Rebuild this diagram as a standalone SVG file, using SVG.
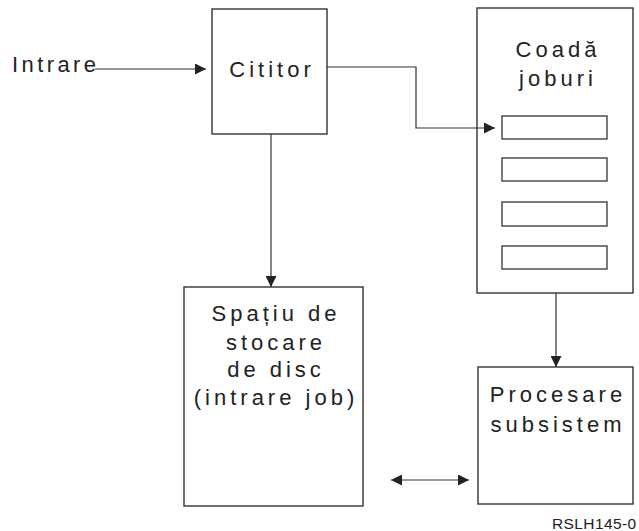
<svg xmlns="http://www.w3.org/2000/svg" width="639" height="531" viewBox="0 0 639 531">
<style>
.box{fill:#fff;stroke:#333;stroke-width:1.4}
.slot{fill:#fff;stroke:#333;stroke-width:1.3}
.lbl{font-family:"Liberation Sans",Arial,sans-serif;font-size:22px;letter-spacing:4px;fill:#222;text-anchor:middle}
.con{fill:none;stroke:#333;stroke-width:1.2}
.id{font-family:"Liberation Sans",Arial,sans-serif;font-size:15.5px;fill:#222}
</style>
<defs>
<marker id="ah" viewBox="0 0 10 10" refX="10" refY="5" markerWidth="11" markerHeight="11" markerUnits="userSpaceOnUse" orient="auto-start-reverse">
<path d="M0,0 L10,5 L0,10 Z" fill="#222"/>
</marker>
</defs>
<g id="intrare">
<text x="12" y="72" class="lbl" style="text-anchor:start;letter-spacing:3.4px">Intrare</text>
</g>
<g id="cititor">
<rect class="box" x="212" y="9" width="115" height="125"/>
<text x="272" y="77" class="lbl">Cititor</text>
</g>
<g id="coada">
<rect class="box" x="477" y="8" width="156" height="285"/>
<text x="558" y="57" class="lbl">Coadă</text>
<text x="558" y="86" class="lbl">joburi</text>
<rect class="slot" x="502" y="116" width="105" height="23"/>
<rect class="slot" x="502" y="158" width="105" height="23"/>
<rect class="slot" x="502" y="202" width="105" height="24"/>
<rect class="slot" x="502" y="246" width="105" height="23"/>
</g>
<g id="spatiu">
<rect class="box" x="184" y="287" width="179" height="219"/>
<text x="276" y="321" class="lbl">Spațiu de</text>
<text x="276" y="350" class="lbl">stocare</text>
<text x="276" y="377" class="lbl">de disc</text>
<text x="276" y="405" class="lbl">(intrare job)</text>
</g>
<g id="procesare">
<rect class="box" x="478" y="367" width="155" height="137"/>
<text x="558" y="402" class="lbl">Procesare</text>
<text x="558" y="432" class="lbl">subsistem</text>
</g>
<g id="connectors">
<line class="con" x1="95" y1="69" x2="206" y2="69" marker-end="url(#ah)"/>
<polyline class="con" points="327,67 416,67 416,128 495,128" marker-end="url(#ah)"/>
<line class="con" x1="271" y1="134" x2="271" y2="287" marker-end="url(#ah)"/>
<line class="con" x1="556" y1="293" x2="556" y2="367" marker-end="url(#ah)"/>
<line class="con" x1="391" y1="480" x2="469" y2="480" marker-start="url(#ah)" marker-end="url(#ah)"/>
</g>
<text x="552" y="529" class="id" style="letter-spacing:0.4px">RSLH145-0</text>
</svg>
